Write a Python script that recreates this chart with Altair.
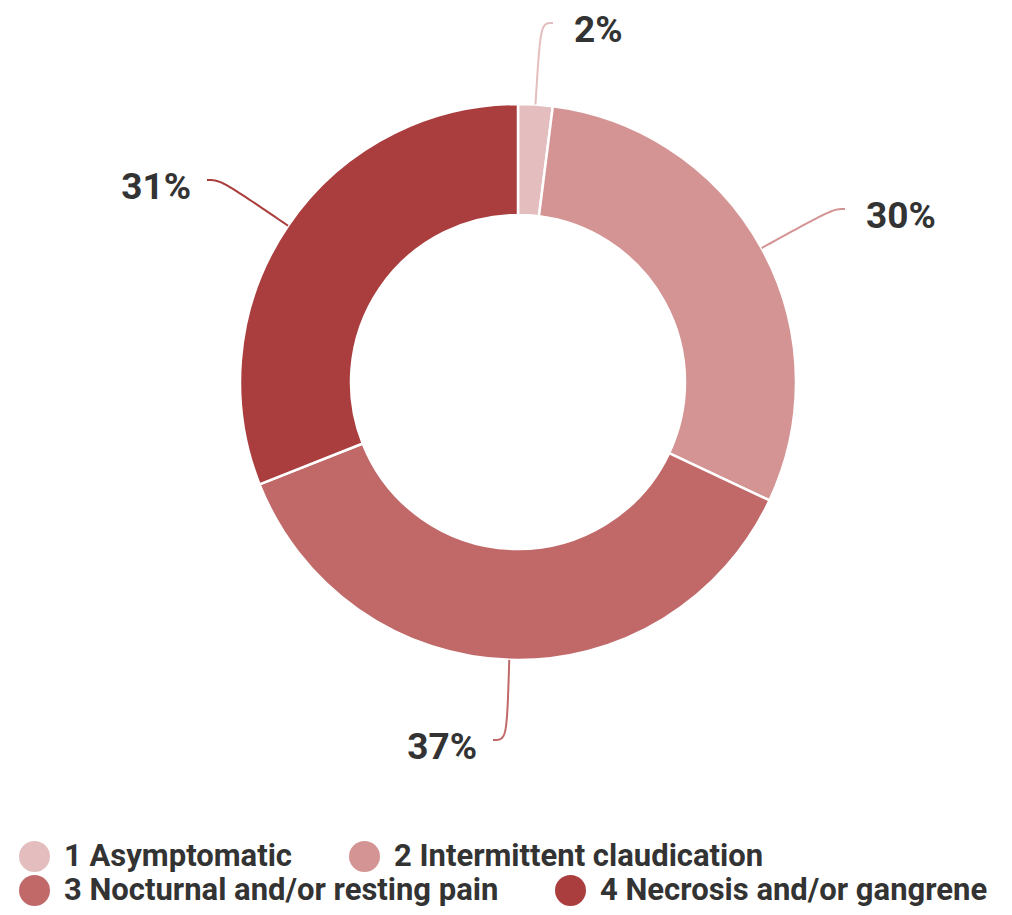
import math
import altair as alt
import pandas as pd

# ---- data ----
categories = ["1 Asymptomatic", "2 Intermittent claudication",
              "3 Nocturnal and/or resting pain", "4 Necrosis and/or gangrene"]
values = [2, 30, 37, 31]
labels = ["2%", "30%", "37%", "31%"]
colors = ["#e4bebe", "#d49494", "#c06968", "#aa3e3e"]

# ---- layout (pixels, relative to donut centre, y up) ----
W, H = 960, 748
R_OUT, R_IN = 278, 167
LABEL_END = [(35, 359), (327, 173), (-25, -358), (-311, 202)]
LABEL_SIDE = ["left", "left", "right", "right"]

df = pd.DataFrame({"cat": categories, "value": values, "label": labels,
                   "order": list(range(len(values))), "hex": colors})

# leader lines derived from slice mid-angles
total = sum(values)
rows = []
text_rows = []
acc = 0
for i, v in enumerate(values):
    mid = (acc + v / 2) / total * 2 * math.pi
    acc += v
    ux, uy = math.sin(mid), math.cos(mid)
    p0 = (R_OUT * ux, R_OUT * uy)
    ex, ey = LABEL_END[i]
    t = (ey - p0[1]) / uy
    c = (p0[0] + ux * t, ey)
    for k in range(41):
        s = k / 40
        a, b, cc, d = (1 - s) ** 3, 3 * (1 - s) ** 2 * s, 3 * (1 - s) * s ** 2, s ** 3
        x = a * p0[0] + (b + cc) * c[0] + d * ex
        y = a * p0[1] + (b + cc) * c[1] + d * ey
        rows.append({"cat": categories[i], "x": x, "y": y, "t": k, "hex": colors[i]})
    text_rows.append({"cat": categories[i], "x": ex, "y": ey, "label": labels[i],
                      "side": LABEL_SIDE[i]})

lines_df = pd.DataFrame(rows)
text_df = pd.DataFrame(text_rows)

xs = alt.Scale(domain=[-W / 2, W / 2], nice=False, zero=False)
ys = alt.Scale(domain=[-H / 2, H / 2], nice=False, zero=False)

arcs = alt.Chart(df).mark_arc(innerRadius=R_IN, outerRadius=R_OUT,
                              stroke="white", strokeWidth=2.5).encode(
    theta=alt.Theta("value:Q", stack=True),
    order=alt.Order("order:Q"),
    color=alt.Color("cat:N", scale=alt.Scale(domain=categories, range=colors), legend=None),
)

leaders = alt.Chart(lines_df).mark_line(strokeWidth=2).encode(
    x=alt.X("x:Q", scale=xs, axis=None),
    y=alt.Y("y:Q", scale=ys, axis=None),
    detail="cat:N",
    order=alt.Order("t:Q"),
    color=alt.Color("hex:N", scale=None),
)

def text_layer(side, dx):
    return alt.Chart(text_df).transform_filter(
        alt.datum.side == side
    ).mark_text(align=side, baseline="middle", dx=dx, dy=8, font="Roboto",
                fontWeight="bold", fontSize=37, color="#333333").encode(
        x=alt.X("x:Q", scale=xs, axis=None),
        y=alt.Y("y:Q", scale=ys, axis=None),
        text="label:N",
    )

def legend_layer(idx, lx, ly):
    dom = [categories[i] for i in idx]
    rng = [colors[i] for i in idx]
    return alt.Chart(df).transform_filter(
        alt.FieldOneOfPredicate(field="cat", oneOf=dom)
    ).mark_point(filled=True, opacity=0, shape="circle").encode(
        color=alt.Color("cat:N", scale=alt.Scale(domain=dom, range=rng),
                        legend=alt.Legend(
                            orient="none", legendX=lx, legendY=ly, direction="horizontal",
                            title=None, symbolType="circle", symbolSize=960,
                            symbolOpacity=1, symbolStrokeWidth=0,
                            labelFont="Roboto", labelFontWeight="bold", labelFontSize=31,
                            labelColor="#333333", labelLimit=0, labelOffset=14,
                            columnPadding=56, padding=0)),
    )

chart = alt.layer(
    arcs, leaders, text_layer("left", 21), text_layer("right", -16),
    legend_layer([0, 1], -19, 833), legend_layer([2, 3], -19, 867),
).resolve_scale(color="independent").properties(
    width=W, height=H,
    autosize=alt.AutoSizeParams(type="none"),
    padding={"left": 30, "top": 0, "right": 6, "bottom": 151},
).configure_view(stroke=None)

chart.save("out.html", embed_options={"renderer": "svg", "actions": False})
